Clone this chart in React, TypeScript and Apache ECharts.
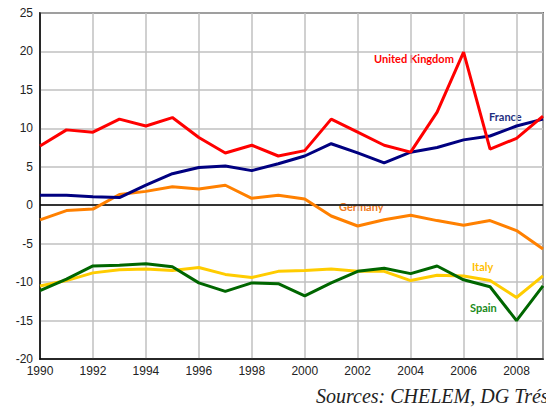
import React, { useEffect, useRef } from "react";
import * as echarts from "echarts";

const years = [1990, 1991, 1992, 1993, 1994, 1995, 1996, 1997, 1998, 1999, 2000, 2001, 2002, 2003, 2004, 2005, 2006, 2007, 2008, 2009];
const unitedKingdom = [7.7, 9.8, 9.5, 11.2, 10.3, 11.4, 8.8, 6.8, 7.8, 6.4, 7.1, 11.2, 9.5, 7.8, 6.9, 12.1, 19.9, 7.3, 8.7, 11.6];
const france = [1.3, 1.3, 1.1, 1.0, 2.6, 4.1, 4.9, 5.1, 4.5, 5.4, 6.4, 8.0, 6.8, 5.5, 6.9, 7.5, 8.5, 9.0, 10.3, 11.2];
const germany = [-1.9, -0.7, -0.5, 1.4, 1.8, 2.4, 2.1, 2.6, 0.9, 1.3, 0.8, -1.4, -2.7, -1.9, -1.3, -2.0, -2.6, -2.0, -3.3, -5.7];
const italy = [-10.5, -9.8, -8.8, -8.4, -8.3, -8.5, -8.1, -9.0, -9.4, -8.6, -8.5, -8.3, -8.6, -8.6, -9.8, -9.1, -9.2, -9.8, -12.0, -9.2];
const spain = [-11.1, -9.6, -7.9, -7.8, -7.6, -8.0, -10.1, -11.2, -10.1, -10.2, -11.8, -10.1, -8.6, -8.2, -8.9, -7.9, -9.7, -10.6, -15.0, -10.5];

const seriesNames = ["Italy", "Spain", "Germany", "France", "United Kingdom"];
const seriesColors = ["#ffcc00", "#006600", "#ff8000", "#000080", "#ff0000"];
const seriesValues = [italy, spain, germany, france, unitedKingdom];
const sourceText = "Sources: CHELEM, DG Trésor";

export default function App() {
  const ref = useRef<HTMLDivElement>(null);
  useEffect(() => {
    if (!ref.current) return;
    const chart = echarts.init(ref.current, null, { renderer: "svg" });
    const series: any[] = seriesNames.map((name, i) => ({
      name,
      type: "line",
      data: years.map((y, j) => [y, seriesValues[i][j]]),
      symbol: "none",
      lineStyle: { color: seriesColors[i], width: 3 },
      itemStyle: { color: seriesColors[i] },
      z: 3 + i,
    }));
    series[0].markLine = {
      silent: true,
      symbol: "none",
      label: { show: false },
      lineStyle: { color: "#000", width: 1.5, type: "solid" },
      data: [{ yAxis: 0 }],
    };
    chart.setOption({
      animation: false,
      backgroundColor: "#fff",
      grid: {
        left: 40,
        top: 13,
        right: 3,
        bottom: 51,
        show: true,
        borderColor: "#000",
        borderWidth: 1.5,
        backgroundColor: "#fff",
      },
      xAxis: {
        type: "value",
        min: 1990,
        max: 2009,
        interval: 2,
        axisLine: { onZero: false, lineStyle: { color: "#000", width: 1.5 } },
        axisTick: { show: false },
        splitLine: { show: true, lineStyle: { color: "#c0c0c0", width: 1.5 } },
        axisLabel: {
          formatter: (v: number) => String(v),
          color: "#222",
          fontSize: 12,
          fontFamily: "Liberation Sans",
          margin: 6,
          showMaxLabel: false,
        },
      },
      yAxis: {
        type: "value",
        min: -20,
        max: 25,
        interval: 5,
        axisLine: { show: true, lineStyle: { color: "#000", width: 1.5 } },
        axisTick: { show: false },
        splitLine: { show: true, lineStyle: { color: "#c0c0c0", width: 1.5 } },
        axisLabel: {
          color: "#222",
          fontSize: 12,
          fontFamily: "Liberation Sans",
          margin: 7,
        },
      },
      series,
      graphic: [
        { type: "text", left: 374, top: 53, style: { text: "United Kingdom", fill: "#ff0000", font: "bold 11px Lato" } },
        { type: "text", left: 489, top: 111, style: { text: "France", fill: "#1f2f7f", font: "bold 11px Lato" } },
        { type: "text", left: 339, top: 201, style: { text: "Germany", fill: "#f07a20", font: "bold 11px Lato" } },
        { type: "text", left: 472, top: 261, style: { text: "Italy", fill: "#ffc000", font: "bold 11px Lato" } },
        { type: "text", left: 470, top: 302, style: { text: "Spain", fill: "#1a8a1a", font: "bold 11px Lato" } },
        { type: "text", left: 316, top: 386, style: { text: sourceText, fill: "#222", font: "italic 20px 'Liberation Serif'" } },
      ],
    });
    return () => chart.dispose();
  }, []);
  return <div ref={ref} style={{ position: "fixed", left: 0, top: 0, width: 546, height: 410 }} />;
}
